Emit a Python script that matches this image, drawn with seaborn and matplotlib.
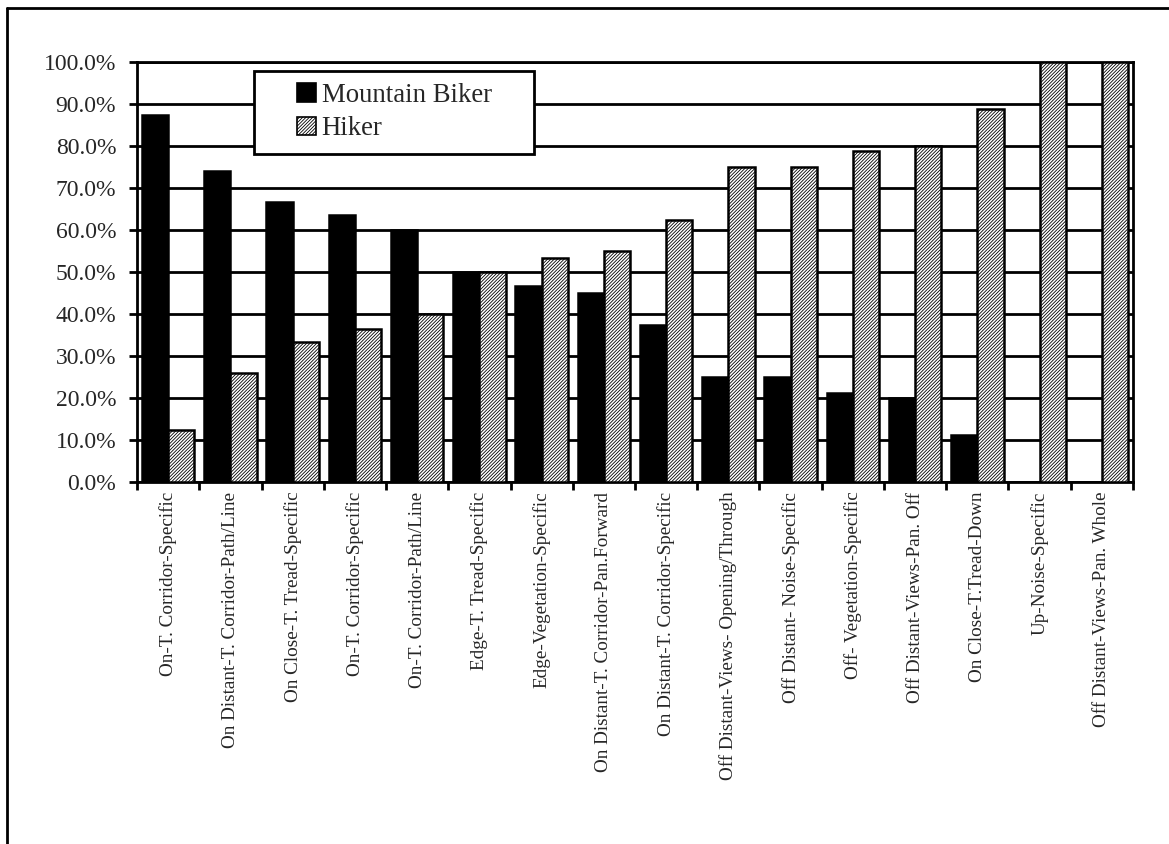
import matplotlib
matplotlib.use("Agg")
import matplotlib.pyplot as plt
from matplotlib.lines import Line2D
from matplotlib.patches import Patch, Rectangle
from matplotlib.ticker import PercentFormatter, FixedLocator
import seaborn as sns
import pandas as pd

categories = [
    "On-T. Corridor-Specific",
    "On Distant-T. Corridor-Path/Line",
    "On Close-T. Tread-Specific",
    "On-T. Corridor-Specific",
    "On-T. Corridor-Path/Line",
    "Edge-T. Tread-Specific",
    "Edge-Vegetation-Specific",
    "On Distant-T. Corridor-Pan.Forward",
    "On Distant-T. Corridor-Specific",
    "Off Distant-Views- Opening/Through",
    "Off Distant- Noise-Specific",
    "Off- Vegetation-Specific",
    "Off Distant-Views-Pan. Off",
    "On Close-T.Tread-Down",
    "Up-Noise-Specific",
    "Off Distant-Views-Pan. Whole",
]
mountain_biker = [0.875, 0.741, 0.667, 0.636, 0.600, 0.500, 0.467, 0.450,
                  0.375, 0.250, 0.250, 0.211, 0.200, 0.111, 0.0, 0.0]
hiker = [0.125, 0.259, 0.333, 0.364, 0.400, 0.500, 0.533, 0.550,
         0.625, 0.750, 0.750, 0.789, 0.800, 0.889, 1.0, 1.0]
series_names = ["Mountain Biker", "Hiker"]

HATCH = "//////////"

# Positions are used as x so repeated category names stay separate bars
n = len(categories)
df = pd.DataFrame({
    "pos": list(range(n)) * 2,
    "share": mountain_biker + hiker,
    "group": [series_names[0]] * n + [series_names[1]] * n,
})

sns.set_style("white")
plt.rcParams["font.family"] = ["Liberation Serif", "DejaVu Serif"]
plt.rcParams["hatch.linewidth"] = 0.6
plt.rcParams["hatch.color"] = "black"

fig = plt.figure(figsize=(11.69, 8.44), dpi=100)
ax = fig.add_axes([0.1172, 0.4289, 0.8520, 0.4976])

sns.barplot(data=df, x="pos", y="share", hue="group", hue_order=series_names,
            palette=["black", "white"], width=0.84, edgecolor="black",
            linewidth=1.8, saturation=1, native_scale=True, ax=ax, zorder=3,
            legend=False)

for bar in ax.containers[1]:
    bar.set_hatch(HATCH)

ax.set_xlim(-0.5, n - 0.5)
ax.set_ylim(0, 1.0)
ax.yaxis.set_major_locator(FixedLocator([i / 10 for i in range(11)]))
ax.yaxis.set_major_formatter(PercentFormatter(1.0, decimals=1))
ax.grid(axis="y", color="black", linewidth=2, zorder=0)
ax.set_axisbelow(True)

ax.set_xticks(range(n))
ax.set_xticklabels(categories, rotation=90, fontsize=13.8)
ax.set_xticks([i - 0.5 for i in range(n + 1)], minor=True)
ax.tick_params(axis="x", which="major", length=0, pad=7)
ax.tick_params(axis="x", which="minor", length=6, width=2, direction="out",
               bottom=True, color="black")
ax.tick_params(axis="y", length=6, width=2, direction="out", left=True,
               labelsize=17, pad=9, color="black")
ax.set_xlabel("")
ax.set_ylabel("")

for side in ["left", "right", "top", "bottom"]:
    ax.spines[side].set_visible(True)
    ax.spines[side].set_color("black")
    ax.spines[side].set_linewidth(2)

# Legend: a square-cornered box with the entries set inside it
box = Rectangle((0.1175, 0.781), 0.2811, 0.1976, transform=ax.transAxes,
                facecolor="white", edgecolor="black", linewidth=2, zorder=5)
ax.add_patch(box)
handles = [
    Patch(facecolor="black", edgecolor="black", linewidth=1.2),
    Patch(facecolor="white", edgecolor="black", linewidth=1.2, hatch=HATCH),
]
leg = ax.legend(handles, series_names, loc="center left",
                bbox_to_anchor=(0.1606, 0.881), borderaxespad=0, borderpad=0,
                fontsize=19.3, frameon=False,
                handlelength=0.7, handleheight=0.7, handletextpad=0.22,
                labelspacing=0.32)
leg.set_zorder(6)

# Outer frame lines (top and left edges of the page)
fig.add_artist(Line2D([0.006, 1.0], [0.9905, 0.9905], color="black",
                      linewidth=2, transform=fig.transFigure))
fig.add_artist(Line2D([0.006, 0.006], [0.0, 0.9905], color="black",
                      linewidth=2, transform=fig.transFigure))

fig.savefig("out.png", dpi=100)
